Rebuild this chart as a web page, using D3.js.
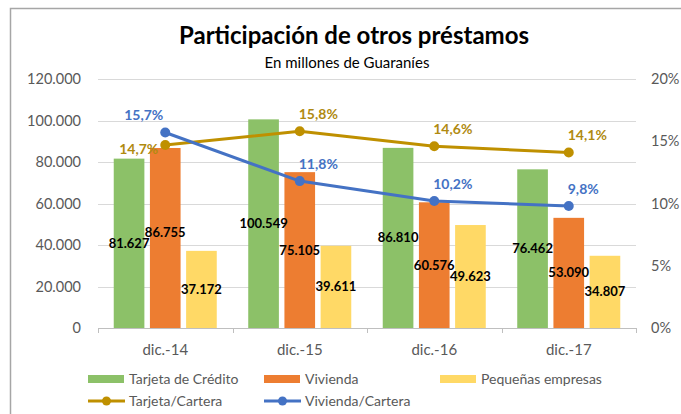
<!DOCTYPE html>
<html>
<head>
<meta charset="utf-8">
<script src="https://cdn.jsdelivr.net/npm/d3@7"></script>
<style>
  html, body { margin: 0; padding: 0; background: #fff; }
  svg { display: block; font-family: Lato, "Open Sans", sans-serif; }
</style>
</head>
<body>
<svg id="chart" width="681" height="414"></svg>
<script>
// ---- data ----
const categories = ["dic.-14", "dic.-15", "dic.-16", "dic.-17"];
const barSeries = ["Tarjeta de Crédito", "Vivienda", "Pequeñas empresas"];
const tarjetaCredito = [81627, 100549, 86810, 76462];
const vivienda = [86755, 75105, 60576, 53090];
const pequenasEmpresas = [37172, 39611, 49623, 34807];
const lineSeries = ["Tarjeta/Cartera", "Vivienda/Cartera"];
const tarjetaCartera = [14.7, 15.8, 14.6, 14.1];
const viviendaCartera = [15.7, 11.8, 10.2, 9.8];
const leftTicks = [0, 20000, 40000, 60000, 80000, 100000, 120000];
const rightTicks = [0, 5, 10, 15, 20];

// ---- styles ----
const barColors = ["#8CC168", "#ED7D31", "#FFD966"];
const lineColors = ["#BF9000", "#4472C4"];
const labelColors = ["#B08A10", "#4472C4"];
const textGray = "#595959";

const svg = d3.select("#chart");
const plot = { left: 98, right: 636, top: 79, bottom: 328 };

// border
svg.append("rect").attr("x", 10.5).attr("y", 8.5).attr("width", 700).attr("height", 430)
  .attr("fill", "none").attr("stroke", "#A6A6A6").attr("stroke-width", 1.5);

// titles
svg.append("text").attr("x", 354).attr("y", 44).attr("text-anchor", "middle")
  .attr("font-size", 24).attr("font-weight", 700).attr("fill", "#000")
  .text("Participación de otros préstamos");
svg.append("text").attr("x", 347).attr("y", 68).attr("text-anchor", "middle")
  .attr("font-size", 15).attr("fill", "#000")
  .text("En millones de Guaraníes");

// scales
const x0 = d3.scaleBand().domain(categories).range([plot.left, plot.right]).padding(0);
const groupW = x0.bandwidth() * 0.766;
const x1 = d3.scaleBand().domain(barSeries)
  .range([(x0.bandwidth() - groupW) / 2, (x0.bandwidth() + groupW) / 2])
  .paddingInner(0.153).paddingOuter(0);
const yL = d3.scaleLinear().domain([0, 120000]).range([plot.bottom, plot.top]);
const yR = d3.scaleLinear().domain([0, 20]).range([plot.bottom, plot.top]);

const fmtN = d3.formatLocale({ decimal: ",", thousands: ".", grouping: [3], currency: ["", ""] }).format(",d");
const fmtP = v => d3.format(".1f")(v).replace(".", ",") + "%";

// gridlines
svg.append("g").selectAll("line").data(leftTicks.filter(d => d > 0)).join("line")
  .attr("x1", plot.left).attr("x2", plot.right)
  .attr("y1", d => Math.round(yL(d)) + 0.5).attr("y2", d => Math.round(yL(d)) + 0.5)
  .attr("stroke", "#D9D9D9").attr("stroke-width", 1);

// left axis
const axL = svg.append("g").attr("transform", `translate(${plot.left},0)`)
  .call(d3.axisLeft(yL).tickValues(leftTicks).tickSize(0).tickPadding(17).tickFormat(d => fmtN(d)));
axL.select(".domain").remove();
axL.selectAll("text").attr("fill", textGray).attr("font-size", 14.5).attr("font-family", "Lato");

// right axis
const axR = svg.append("g").attr("transform", `translate(${plot.right},0)`)
  .call(d3.axisRight(yR).tickValues(rightTicks).tickSize(0).tickPadding(15).tickFormat(d => d + "%"));
axR.select(".domain").remove();
axR.selectAll("text").attr("fill", textGray).attr("font-size", 14.5).attr("font-family", "Lato");

// bars
const barData = [tarjetaCredito, vivienda, pequenasEmpresas];
const groups = svg.append("g").selectAll("g").data(categories).join("g")
  .attr("transform", d => `translate(${x0(d)},0)`);
groups.selectAll("rect").data((c, i) => barSeries.map((s, j) => ({ s, j, v: barData[j][i] }))).join("rect")
  .attr("x", d => x1(d.s)).attr("width", x1.bandwidth())
  .attr("y", d => yL(d.v)).attr("height", d => yL(0) - yL(d.v))
  .attr("fill", d => barColors[d.j]);

// bottom category axis
const axB = svg.append("g").attr("transform", `translate(0,${plot.bottom})`)
  .call(d3.axisBottom(x0).tickSize(0).tickPadding(16));
axB.select(".domain").attr("stroke", "#BFBFBF");
axB.selectAll("text").attr("fill", textGray).attr("font-size", 15).attr("font-family", "Lato");
svg.append("g").selectAll("line").data(categories.concat([null])).join("line")
  .attr("x1", (d, i) => Math.round(plot.left + i * x0.step()) + 0.5)
  .attr("x2", (d, i) => Math.round(plot.left + i * x0.step()) + 0.5)
  .attr("y1", plot.bottom).attr("y2", plot.bottom + 5)
  .attr("stroke", "#BFBFBF");

// bar labels (centered, nudged up if overlapping with previous label in group)
groups.each(function (c, i) {
  const g = d3.select(this);
  let prevY = null;
  barSeries.forEach((s, j) => {
    const v = barData[j][i];
    let ly = (yL(v) + yL(0)) / 2;
    if (prevY !== null && Math.abs(ly - prevY) < 11) ly = prevY - 11;
    prevY = ly;
    g.append("text").attr("x", x1(s) + x1.bandwidth() / 2).attr("y", ly)
      .attr("dy", "0.35em").attr("text-anchor", "middle")
      .attr("font-size", 13).attr("font-weight", 700).attr("fill", "#000")
      .text(fmtN(v));
  });
});

// lines
const lineData = [tarjetaCartera, viviendaCartera];
const cx = c => x0(c) + x0.bandwidth() / 2;
const line = d3.line().x((d, i) => cx(categories[i])).y(d => yR(d));
lineData.forEach((arr, k) => {
  svg.append("path").datum(arr).attr("d", line)
    .attr("fill", "none").attr("stroke", lineColors[k]).attr("stroke-width", 3)
    .attr("stroke-linejoin", "round");
});
lineData.forEach((arr, k) => {
  svg.append("g").selectAll("circle").data(arr).join("circle")
    .attr("cx", (d, i) => cx(categories[i])).attr("cy", d => yR(d)).attr("r", 5)
    .attr("fill", lineColors[k]);
});

// line labels: placement per point (style, not data)
const placement = [
  ["left", "aboveRight", "aboveRight", "aboveRight"],
  ["aboveLeft", "aboveRight", "aboveRight", "aboveRight"]
];
lineData.forEach((arr, k) => {
  arr.forEach((v, i) => {
    const px = cx(categories[i]), py = yR(v);
    const p = placement[k][i];
    let tx = px, ty = py, anchor = "middle";
    if (p === "left") { tx = px - 7; ty = py + 4; anchor = "end"; }
    else if (p === "aboveLeft") { tx = px - 2; ty = py - 17; anchor = "end"; }
    else if (p === "aboveRight") { tx = px - 1; ty = py - 17; anchor = "start"; }
    svg.append("text").attr("x", tx).attr("y", ty).attr("dy", "0.35em")
      .attr("text-anchor", anchor).attr("font-size", 14).attr("font-weight", 700)
      .attr("fill", labelColors[k]).text(fmtP(v));
  });
});

// legend
const legY1 = 379, legY2 = 401;
const legBarX = [88, 264, 440];
barSeries.forEach((s, j) => {
  svg.append("rect").attr("x", legBarX[j]).attr("y", legY1 - 4).attr("width", 36).attr("height", 8)
    .attr("fill", barColors[j]);
  svg.append("text").attr("x", legBarX[j] + 41).attr("y", legY1).attr("dy", "0.35em")
    .attr("font-size", 14).attr("fill", textGray).text(s);
});
const legLineX = [88, 264];
lineSeries.forEach((s, k) => {
  svg.append("line").attr("x1", legLineX[k]).attr("x2", legLineX[k] + 37)
    .attr("y1", legY2).attr("y2", legY2).attr("stroke", lineColors[k]).attr("stroke-width", 3);
  svg.append("circle").attr("cx", legLineX[k] + 18.5).attr("cy", legY2).attr("r", 4.5)
    .attr("fill", lineColors[k]);
  svg.append("text").attr("x", legLineX[k] + 41).attr("y", legY2).attr("dy", "0.35em")
    .attr("font-size", 14).attr("fill", textGray).text(s);
});
</script>
</body>
</html>
